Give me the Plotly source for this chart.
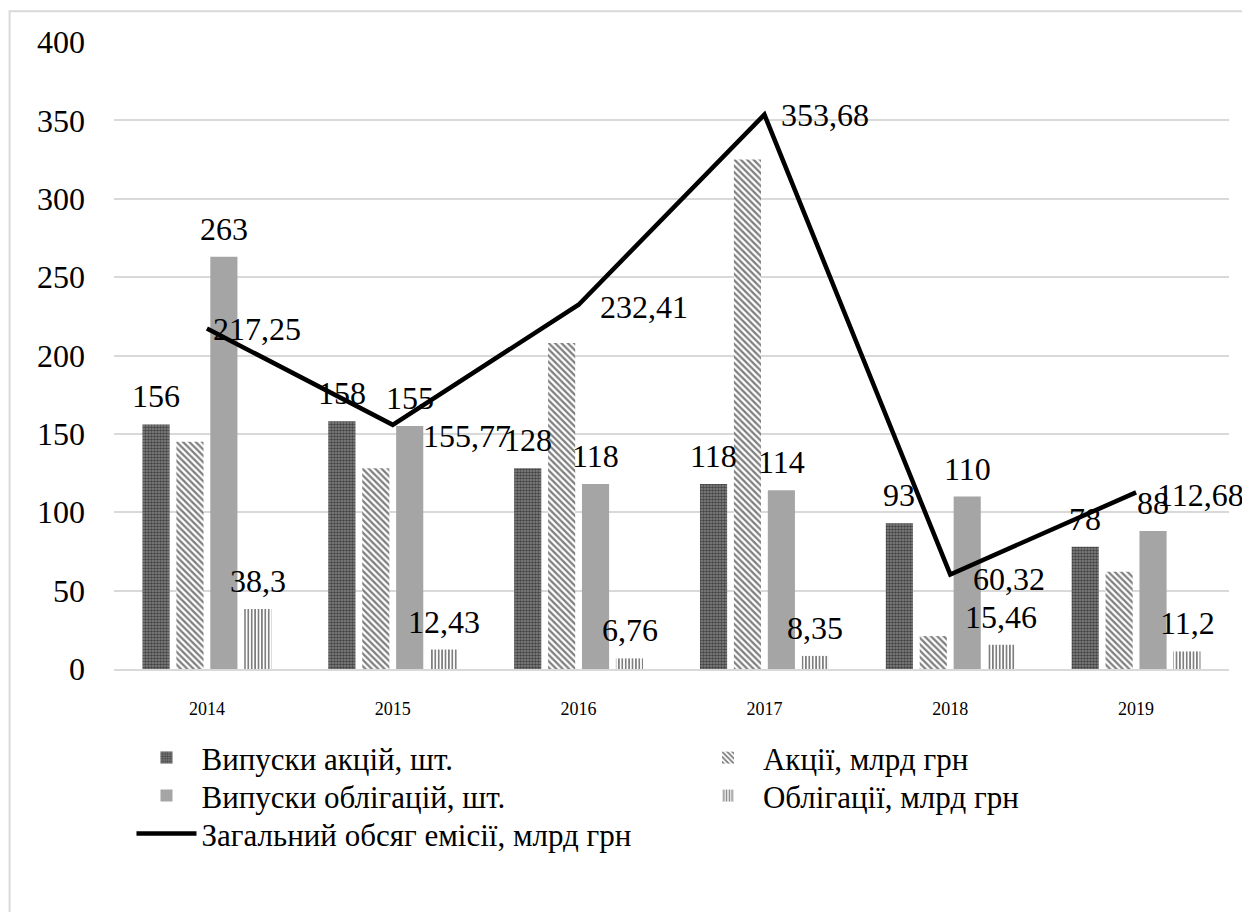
import plotly.graph_objects as go

# ---- data ----
years = ["2014", "2015", "2016", "2017", "2018", "2019"]
share_issues = [156, 158, 128, 118, 93, 78]            # Випуски акцій, шт.
share_volume = [145, 128, 208, 325, 21, 62]             # Акції, млрд грн
bond_issues = [263, 155, 118, 114, 110, 88]             # Випуски облігацій, шт.
bond_volume = [38.3, 12.43, 6.76, 8.35, 15.46, 11.2]    # Облігації, млрд грн
total_volume = [217.25, 155.77, 232.41, 353.68, 60.32, 112.68]  # Загальний обсяг емісії

names = ["Випуски акцій, шт.", "Акції, млрд грн", "Випуски облігацій, шт.",
         "Облігації, млрд грн", "Загальний обсяг емісії, млрд грн"]

# ---- style ----
FONT = "Liberation Serif"
W, H = 1242, 904          # page body has an 8px margin
L, B = 105.5, 243
T = 33.7
R = W - 1221.5
pw = W - L - R
ph = H - T - B
BAR_OFFSET_PX = [-51, -17, 17, 51]
LINE_LABEL_SHIFT = [(4, 1), (28, 11), (19, 2), (15, 0), (21, 5), (19, 3)]
LABEL_SIZE = 32
LEGEND_SIZE = 31

def px_x(x):  # figure pixel -> paper x
    return (x - L) / pw

def px_y(y):  # figure pixel -> paper y
    return (H - B - y) / ph

def fmt(v):
    return ("%g" % v).replace(".", ",")

# legend slots (figure px of top-left): col1 / col2, rows
LEG_POS = {"legend": (123, 723), "legend2": (685, 723), "legend3": (123, 761),
           "legend4": (685, 761), "legend5": (123, 799)}

fig = go.Figure()
fig.add_trace(go.Bar(x=years, y=share_issues, name=names[0], legend="legend",
                     marker=dict(color="#777777", line=dict(width=0),
                                 pattern=dict(shape=".", fgcolor="#000000", bgcolor="#8a8a8a",
                                              size=3, solidity=0.6))))
fig.add_trace(go.Bar(x=years, y=share_volume, name=names[1], legend="legend2",
                     marker=dict(color="white", line=dict(width=0),
                                 pattern=dict(shape="\\", fgcolor="#000000", bgcolor="white",
                                              size=4.5, solidity=0.5))))
fig.add_trace(go.Bar(x=years, y=bond_issues, name=names[2], legend="legend3",
                     marker=dict(color="#a5a5a5", line=dict(width=0))))
fig.add_trace(go.Bar(x=years, y=bond_volume, name=names[3], legend="legend4",
                     marker=dict(color="white", line=dict(width=0),
                                 pattern=dict(shape="|", fgcolor="#000000", bgcolor="white",
                                              size=3.4, solidity=0.5))))
fig.add_trace(go.Scatter(x=years, y=total_volume, name=names[4], legend="legend5",
                         mode="lines", line=dict(color="black", width=4.5)))

annotations = []
for idx, series in [(0, share_issues), (2, bond_issues), (3, bond_volume)]:
    for i, v in enumerate(series):
        annotations.append(dict(x=i, y=v, text=fmt(v), showarrow=False,
                                xshift=BAR_OFFSET_PX[idx], yshift=28, yanchor="middle",
                                xanchor="center",
                                font=dict(family=FONT, size=LABEL_SIZE, color="black")))
for i, (v, (dx, dy)) in enumerate(zip(total_volume, LINE_LABEL_SHIFT)):
    annotations.append(dict(x=i, y=v, text=fmt(v), showarrow=False,
                            xshift=dx, yshift=-dy, xanchor="left", yanchor="middle",
                            font=dict(family=FONT, size=LABEL_SIZE, color="black")))

legends = {}
for key, (lx, ly) in LEG_POS.items():
    legends[key] = dict(orientation="v", x=px_x(lx), xanchor="left",
                        y=px_y(ly), yanchor="top", visible=True,
                        font=dict(family=FONT, size=LEGEND_SIZE, color="black"),
                        itemwidth=60, bgcolor="rgba(0,0,0,0)")

fig.update_layout(
    width=W, height=H,
    margin=dict(l=L, r=R, t=T, b=B),
    paper_bgcolor="white", plot_bgcolor="white",
    font=dict(family=FONT, color="black"),
    showlegend=True,
    barmode="group", bargap=0.27, bargroupgap=0.2,
    annotations=annotations,
    shapes=[dict(type="rect", xref="paper", yref="paper",
                 x0=px_x(1), x1=1.3, y0=-0.7, y1=px_y(3),
                 line=dict(color="#d9d9d9", width=2), fillcolor="rgba(0,0,0,0)", layer="below")],
    **legends,
)
fig.update_xaxes(type="category", range=[-0.5, len(years) - 0.5], showgrid=False,
                 showline=True, linecolor="#d9d9d9",
                 linewidth=2, ticks="", tickfont=dict(family=FONT, size=18),
                 ticklabelstandoff=22)
fig.update_yaxes(range=[0, 400], dtick=50, showgrid=True, gridcolor="#d9d9d9", gridwidth=2,
                 zeroline=False, showline=False, ticks="",
                 tickfont=dict(family=FONT, size=LABEL_SIZE), ticklabelstandoff=28)

fig.write_html("out.html")
